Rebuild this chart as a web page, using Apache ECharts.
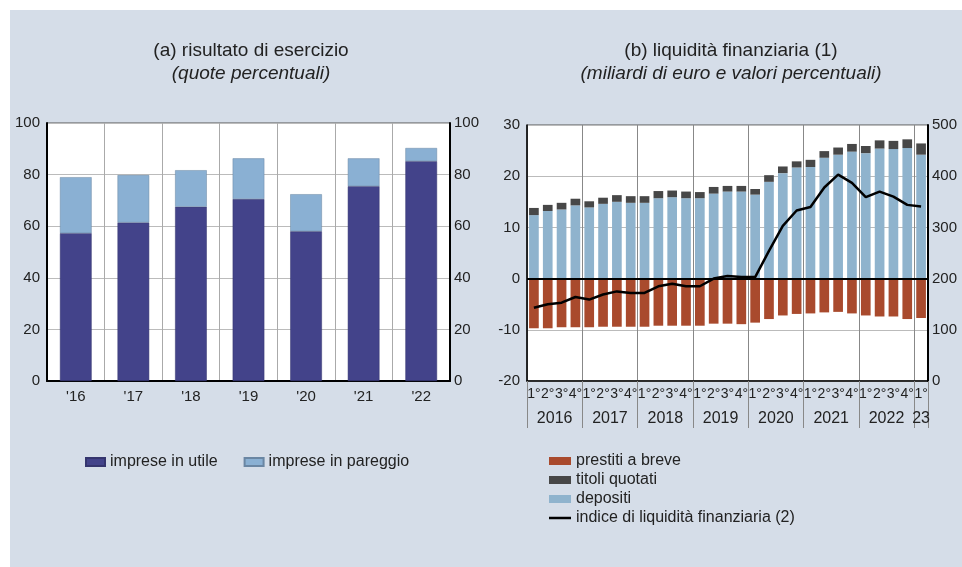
<!DOCTYPE html>
<html lang="it">

<head>
    <meta charset="UTF-8">
    <title>Risultato di esercizio e liquidità finanziaria</title>
    <script src="https://cdn.jsdelivr.net/npm/echarts@6/dist/echarts.min.js"></script>
    <style>
        html, body { margin: 0; padding: 0; background: #fff; }
        #main { width: 962px; height: 567px; }
    </style>
</head>

<body>
    <div id="main"></div>

    <script type="text/javascript">
        // (a) risultato di esercizio - quote percentuali
        var anni = ["'16", "'17", "'18", "'19", "'20", "'21", "'22"];
        var impreseUtile = [57.3, 61.4, 67.5, 70.5, 58.0, 75.5, 85.2];
        var impresePareggio = [21.7, 18.4, 14.2, 15.8, 14.4, 10.8, 5.1];

        // (b) liquidità finanziaria - trimestri dal 2016 al 1° trim. 2023
        var trimestri = ['1°', '2°', '3°', '4°', '1°', '2°', '3°', '4°', '1°', '2°', '3°', '4°',
            '1°', '2°', '3°', '4°', '1°', '2°', '3°', '4°', '1°', '2°', '3°', '4°',
            '1°', '2°', '3°', '4°', '1°'];
        var anniEtichette = ['2016', '2017', '2018', '2019', '2020', '2021', '2022', '23'];
        var trimestriPerAnno = [4, 4, 4, 4, 4, 4, 4, 1];
        var prestiti = [-9.7, -9.7, -9.5, -9.5, -9.5, -9.4, -9.4, -9.4, -9.4, -9.2, -9.2, -9.2,
            -9.2, -8.8, -8.8, -8.9, -8.6, -7.9, -7.2, -6.9, -6.8, -6.6, -6.5, -6.8,
            -7.2, -7.4, -7.4, -7.9, -7.7];
        var depositi = [12.4, 13.2, 13.5, 14.3, 13.9, 14.6, 15.0, 14.8, 14.8, 15.7, 15.9, 15.7,
            15.7, 16.6, 17.0, 17.0, 16.4, 18.9, 20.6, 21.7, 21.8, 23.6, 24.2, 24.8,
            24.5, 25.4, 25.3, 25.5, 24.2];
        var titoli = [1.4, 1.2, 1.3, 1.3, 1.2, 1.2, 1.3, 1.3, 1.3, 1.4, 1.3, 1.3,
            1.2, 1.3, 1.1, 1.1, 1.1, 1.3, 1.3, 1.2, 1.4, 1.3, 1.4, 1.5,
            1.4, 1.6, 1.6, 1.7, 2.2];
        var indice = [143, 150, 153, 164, 159, 169, 175, 172, 172, 185, 190, 185,
            185, 200, 205, 203, 203, 254, 303, 333, 340, 378, 403, 387,
            359, 370, 360, 344, 341];

        // centro di ogni gruppo di trimestri, per le etichette degli anni
        var centriAnni = [];
        var inizioAnno = [];
        var inizio = 0;
        trimestriPerAnno.forEach(function (n) {
            inizioAnno.push(inizio);
            centriAnni.push(inizio + n / 2);
            inizio += n;
        });

        var font = 'Liberation Sans, Arial, sans-serif';
        var testo = '#222';
        var etichetta = { color: testo, fontSize: 15, fontFamily: font };

        var myChart = echarts.init(document.getElementById('main'));

        var option = {
            animation: false,
            backgroundColor: '#fff',
            textStyle: { fontFamily: font },
            graphic: [{
                type: 'rect',
                silent: true,
                z: -10,
                shape: { x: 10, y: 10, width: 952, height: 557 },
                style: { fill: '#d5dde8' }
            }],
            title: [{
                text: '(a) risultato di esercizio',
                subtext: '(quote percentuali)',
                left: 251,
                top: 41,
                textAlign: 'center',
                padding: 0,
                itemGap: 4,
                textStyle: { color: testo, fontSize: 19, fontWeight: 'normal', fontFamily: font },
                subtextStyle: { color: testo, fontSize: 19, fontStyle: 'italic', fontFamily: font }
            }, {
                text: '(b) liquidità finanziaria (1)',
                subtext: '(miliardi di euro e valori percentuali)',
                left: 731,
                top: 41,
                textAlign: 'center',
                padding: 0,
                itemGap: 4,
                textStyle: { color: testo, fontSize: 19, fontWeight: 'normal', fontFamily: font },
                subtextStyle: { color: testo, fontSize: 19, fontStyle: 'italic', fontFamily: font }
            }],
            legend: [{
                data: ['imprese in utile', 'imprese in pareggio'],
                icon: 'rect',
                left: 85,
                top: 454,
                padding: 0,
                itemWidth: 19,
                itemHeight: 8,
                itemGap: 26,
                textStyle: { color: testo, fontSize: 16, fontFamily: font }
            }, {
                data: [
                    { name: 'prestiti a breve', icon: 'rect' },
                    { name: 'titoli quotati', icon: 'rect' },
                    { name: 'depositi', icon: 'rect' },
                    { name: 'indice di liquidità finanziaria (2)', icon: 'path://M0,0H22V2.5H0Z' }
                ],
                orient: 'vertical',
                left: 549,
                top: 453,
                padding: 0,
                itemWidth: 22,
                itemHeight: 8,
                itemGap: 3,
                textStyle: { color: testo, fontSize: 16, fontFamily: font }
            }],
            grid: [{
                left: 47, right: 512, top: 123, bottom: 186,
                show: true, backgroundColor: '#fff', borderColor: '#555', borderWidth: 1
            }, {
                left: 527, right: 34, top: 125, bottom: 186,
                show: true, backgroundColor: '#fff', borderColor: '#555', borderWidth: 1
            }],
            xAxis: [{
                gridIndex: 0,
                type: 'category',
                data: anni,
                axisLine: { lineStyle: { color: '#000', width: 2 } },
                axisTick: { show: false },
                axisLabel: Object.assign({ margin: 8 }, etichetta),
                splitLine: { show: true, lineStyle: { color: '#aaa' } }
            }, {
                gridIndex: 1,
                type: 'category',
                data: trimestri,
                axisLine: { onZero: false, lineStyle: { color: '#000', width: 1.5 } },
                axisTick: {
                    show: true,
                    length: 47,
                    interval: function (i) { return inizioAnno.indexOf(i) >= 0; },
                    lineStyle: { color: '#888', width: 1 }
                },
                axisLabel: { interval: 0, margin: 6, color: testo, fontSize: 14, fontFamily: font }
            }, {
                gridIndex: 1,
                type: 'value',
                position: 'bottom',
                min: 0,
                max: trimestri.length,
                interval: 4,
                axisLine: { show: false },
                axisTick: { show: false },
                splitLine: { show: true, lineStyle: { color: '#888' } },
                axisLabel: {
                    margin: 30,
                    fontSize: 16,
                    color: testo,
                    fontFamily: font,
                    customValues: centriAnni,
                    formatter: function (v) {
                        var i = centriAnni.indexOf(v);
                        return i >= 0 ? anniEtichette[i] : '';
                    }
                }
            }],
            yAxis: [{
                gridIndex: 0,
                type: 'value',
                position: 'left',
                min: 0, max: 100, interval: 20,
                axisLine: { show: true, lineStyle: { color: '#000', width: 2 } },
                axisTick: { show: false },
                axisLabel: Object.assign({ margin: 7 }, etichetta),
                splitLine: { lineStyle: { color: '#bbb' } }
            }, {
                gridIndex: 0,
                type: 'value',
                position: 'right',
                min: 0, max: 100, interval: 20,
                axisLine: { show: true, lineStyle: { color: '#000', width: 2 } },
                axisTick: { show: false },
                axisLabel: Object.assign({ margin: 4 }, etichetta),
                splitLine: { show: false }
            }, {
                gridIndex: 1,
                type: 'value',
                position: 'left',
                min: -20, max: 30, interval: 10,
                axisLine: { show: true, lineStyle: { color: '#000', width: 1.5 } },
                axisTick: { show: false },
                axisLabel: Object.assign({ margin: 7 }, etichetta),
                splitLine: { lineStyle: { color: '#bbb' } }
            }, {
                gridIndex: 1,
                type: 'value',
                position: 'right',
                min: 0, max: 500, interval: 100,
                axisLine: { show: true, lineStyle: { color: '#000', width: 2 } },
                axisTick: { show: false },
                axisLabel: Object.assign({ margin: 4 }, etichetta),
                splitLine: { show: false }
            }],
            series: [{
                name: 'imprese in utile',
                type: 'bar',
                xAxisIndex: 0,
                yAxisIndex: 0,
                stack: 'a',
                barWidth: '55%',
                itemStyle: { color: '#43438a', borderColor: '#35356e', borderWidth: 0.5 },
                data: impreseUtile
            }, {
                name: 'imprese in pareggio',
                type: 'bar',
                xAxisIndex: 0,
                yAxisIndex: 0,
                stack: 'a',
                itemStyle: { color: '#8ab0d3', borderColor: '#6a86a3', borderWidth: 0.5 },
                data: impresePareggio
            }, {
                name: 'prestiti a breve',
                type: 'bar',
                xAxisIndex: 1,
                yAxisIndex: 2,
                stack: 'b',
                barWidth: '70%',
                itemStyle: { color: '#a94a2d' },
                data: prestiti,
                markLine: {
                    silent: true,
                    symbol: 'none',
                    label: { show: false },
                    lineStyle: { color: '#000', width: 2, type: 'solid' },
                    data: [{ yAxis: 0 }]
                }
            }, {
                name: 'depositi',
                type: 'bar',
                xAxisIndex: 1,
                yAxisIndex: 2,
                stack: 'b',
                itemStyle: { color: '#8fb3cd' },
                data: depositi
            }, {
                name: 'titoli quotati',
                type: 'bar',
                xAxisIndex: 1,
                yAxisIndex: 2,
                stack: 'b',
                itemStyle: { color: '#474747' },
                data: titoli
            }, {
                name: 'indice di liquidità finanziaria (2)',
                type: 'line',
                xAxisIndex: 1,
                yAxisIndex: 3,
                symbol: 'none',
                lineStyle: { color: '#000', width: 2.5 },
                itemStyle: { color: '#000' },
                data: indice
            }]
        };

        myChart.setOption(option);
    </script>
</body>

</html>
